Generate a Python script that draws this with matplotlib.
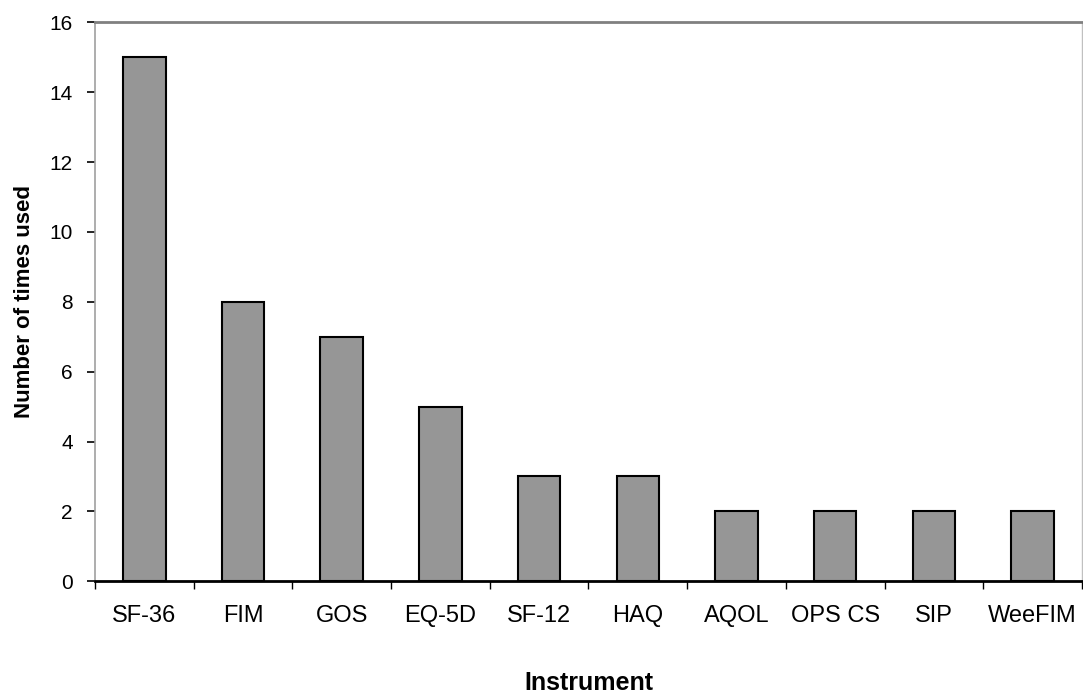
import matplotlib
matplotlib.use("Agg")
import matplotlib.pyplot as plt
import numpy as np

plt.rcParams['font.family'] = ['Liberation Sans', 'DejaVu Sans']

instruments = ['SF-36', 'FIM', 'GOS', 'EQ-5D', 'SF-12', 'HAQ', 'AQOL', 'OPS CS', 'SIP', 'WeeFIM']
times_used = [15, 8, 7, 5, 3, 3, 2, 2, 2, 2]

fig = plt.figure(figsize=(10.83, 6.97), dpi=100)
ax = fig.add_axes([0.0877, 0.166, 0.9113, 0.802])

x = np.arange(len(instruments))
ax.bar(x, times_used, width=0.43, color='#969696', edgecolor='black', linewidth=1.5, zorder=3)

ax.set_xlim(-0.5, len(instruments) - 0.5)
ax.set_ylim(0, 16)
ax.set_yticks(range(0, 17, 2))
ax.set_xticks(x)
ax.set_xticklabels(instruments)
# tick marks sit between the categories
ax.set_xticks(np.arange(-0.5, len(instruments), 1), minor=True)
ax.tick_params(axis='x', which='major', length=0, pad=17, labelsize=17)
ax.tick_params(axis='x', which='minor', length=6, width=1, direction='out', color='black')
ax.tick_params(axis='y', length=6, width=1.2, direction='out', labelsize=15, pad=10)

ax.spines['bottom'].set_linewidth(2)
ax.spines['bottom'].set_color('black')
ax.spines['top'].set_color('#808080')
ax.spines['top'].set_linewidth(2)
ax.spines['left'].set_color('#a0a0a0')
ax.spines['left'].set_linewidth(1.2)
ax.spines['right'].set_color('#c0c0c0')
ax.spines['right'].set_linewidth(1)

ax.set_ylabel('Number of times used', fontsize=16, fontweight='bold')
ax.yaxis.set_label_coords(-0.061, 0.5)
ax.set_xlabel('Instrument', fontsize=18, fontweight='bold')
ax.xaxis.set_label_coords(0.5, -0.16)

fig.savefig('out.png', dpi=100)
